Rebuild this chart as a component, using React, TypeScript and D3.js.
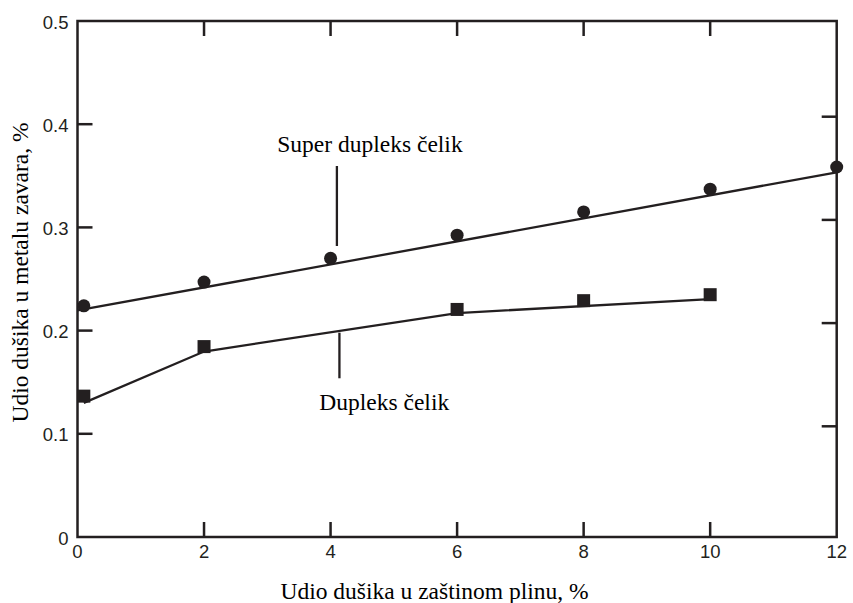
import React from "react";
import * as d3 from "d3";

// Data
const superX = [0.1, 2, 4, 6, 8, 10, 12];
const superY = [0.224, 0.247, 0.27, 0.2925, 0.315, 0.337, 0.3585];
const superFitX = [0, 12];
const superFitY = [0.2195, 0.3534];

const duplexX = [0.1, 2, 6, 8, 10];
const duplexY = [0.1365, 0.1845, 0.2205, 0.229, 0.2348];
const duplexFitX = [0.1, 2, 6, 10];
const duplexFitY = [0.13, 0.1797, 0.217, 0.2305];

const xTicks = [0, 2, 4, 6, 8, 10, 12];
const yTicks = [0, 0.1, 0.2, 0.3, 0.4, 0.5];
const yTickLabels = ["0", "0.1", "0.2", "0.3", "0.4", "0.5"];
const innerXTicks = [2, 4, 6, 8, 10];
const innerYTicks = [0.1, 0.2, 0.3, 0.4];

const superLabel = "Super dupleks čelik";
const duplexLabel = "Dupleks čelik";
const superPointer = { x: 4.1, y1: 0.282, y2: 0.3595 };
const duplexPointer = { x: 4.14, y1: 0.1538, y2: 0.198 };
const superLabelPos = { x: 3.158, y: 0.3734 };
const duplexLabelPos = { x: 3.822, y: 0.1231 };

const xTitle = "Udio dušika u zaštinom plinu, %";
const yTitle = "Udio dušika u metalu zavara, %";

export default function App() {
  const W = 853, H = 603;
  const x = d3.scaleLinear().domain([0, 12]).range([77.5, 836.7]);
  const y = d3.scaleLinear().domain([0, 0.5]).range([537, 21]);
  // right-hand ticks in the reference are drawn slightly higher
  const yR = d3.scaleLinear().domain([0, 0.5]).range([529.5, 13.5]);
  const ink = "#231f20";
  const serif = "'Liberation Serif', 'Times New Roman', serif";
  const sans = "'Liberation Sans', Arial, sans-serif";

  const line = d3
    .line<[number, number]>()
    .x((d) => x(d[0]))
    .y((d) => y(d[1]));

  const superFit = line(superFitX.map((v, i) => [v, superFitY[i]]) as [number, number][]) || "";
  const duplexFit = line(duplexFitX.map((v, i) => [v, duplexFitY[i]]) as [number, number][]) || "";

  const tickLen = 15;
  const sq = 13;

  return (
    <svg
      width={W}
      height={H}
      style={{ position: "absolute", left: 0, top: 0, background: "#fff" }}
    >
      <rect x={0} y={0} width={W} height={H} fill="#fff" />
      {/* frame */}
      <rect
        x={x(0)}
        y={y(0.5)}
        width={x(12) - x(0)}
        height={y(0) - y(0.5)}
        fill="none"
        stroke={ink}
        strokeWidth={2.5}
      />
      {/* bottom & top ticks */}
      {innerXTicks.map((t) => (
        <g key={"xt" + t}>
          <line x1={x(t)} x2={x(t)} y1={y(0)} y2={y(0) - tickLen} stroke={ink} strokeWidth={2.5} />
          <line x1={x(t)} x2={x(t)} y1={y(0.5)} y2={y(0.5) + tickLen} stroke={ink} strokeWidth={2.5} />
        </g>
      ))}
      {/* left & right ticks */}
      {innerYTicks.map((t) => (
        <g key={"yt" + t}>
          <line x1={x(0)} x2={x(0) + tickLen} y1={y(t)} y2={y(t)} stroke={ink} strokeWidth={2.5} />
          <line x1={x(12)} x2={x(12) - tickLen} y1={yR(t)} y2={yR(t)} stroke={ink} strokeWidth={2.5} />
        </g>
      ))}
      {/* tick labels */}
      {xTicks.map((t) => (
        <text
          key={"xl" + t}
          x={x(t)}
          y={558}
          textAnchor="middle"
          fontFamily={sans}
          fontSize={18.5}
          fill={ink}
        >
          {t}
        </text>
      ))}
      {yTicks.map((t, i) => (
        <text
          key={"yl" + t}
          x={68.5}
          y={y(t) + 7.5}
          textAnchor="end"
          fontFamily={sans}
          fontSize={18.5}
          fill={ink}
        >
          {yTickLabels[i]}
        </text>
      ))}
      {/* fitted lines */}
      <path d={superFit} fill="none" stroke={ink} strokeWidth={2.3} />
      <path d={duplexFit} fill="none" stroke={ink} strokeWidth={2.3} />
      {/* markers */}
      {superX.map((v, i) => (
        <circle key={"c" + i} cx={x(v)} cy={y(superY[i])} r={6.5} fill={ink} />
      ))}
      {duplexX.map((v, i) => (
        <rect
          key={"s" + i}
          x={x(v) - sq / 2}
          y={y(duplexY[i]) - sq / 2}
          width={sq}
          height={sq}
          fill={ink}
        />
      ))}
      {/* annotations */}
      <line
        x1={x(superPointer.x)}
        x2={x(superPointer.x)}
        y1={y(superPointer.y1)}
        y2={y(superPointer.y2)}
        stroke={ink}
        strokeWidth={2.3}
      />
      <line
        x1={x(duplexPointer.x)}
        x2={x(duplexPointer.x)}
        y1={y(duplexPointer.y1)}
        y2={y(duplexPointer.y2)}
        stroke={ink}
        strokeWidth={2.3}
      />
      <text x={x(superLabelPos.x)} y={y(superLabelPos.y)} fontFamily={serif} fontSize={23.5} fill="#000">
        {superLabel}
      </text>
      <text x={x(duplexLabelPos.x)} y={y(duplexLabelPos.y)} fontFamily={serif} fontSize={23.5} fill="#000">
        {duplexLabel}
      </text>
      {/* axis titles */}
      <text x={434.5} y={599} textAnchor="middle" fontFamily={serif} fontSize={23.5} fill="#000">
        {xTitle}
      </text>
      <text
        transform={`translate(28,272.5) rotate(-90)`}
        textAnchor="middle"
        fontFamily={serif}
        fontSize={23.5}
        fill="#000"
      >
        {yTitle}
      </text>
    </svg>
  );
}
